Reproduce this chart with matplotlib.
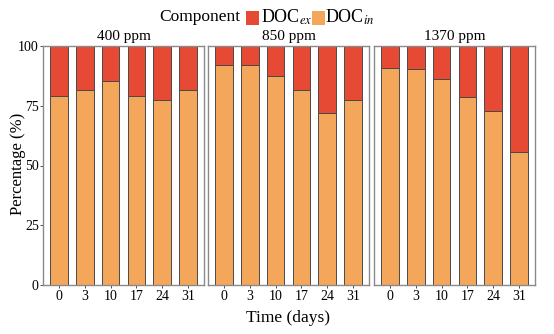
import matplotlib.pyplot as plt
from matplotlib.patches import Rectangle

plt.rcParams['font.family'] = ['Liberation Serif', 'DejaVu Serif']
plt.rcParams['mathtext.fontset'] = 'stix'

days = ['0', '3', '10', '17', '24', '31']
panels = ['400 ppm', '850 ppm', '1370 ppm']
doc_in = [
    [79.2, 81.7, 85.4, 79.0, 77.3, 81.5],
    [92.1, 91.9, 87.4, 81.5, 72.1, 77.3],
    [90.6, 90.4, 86.4, 78.5, 72.8, 55.5],
]
doc_ex = [[100 - v for v in row] for row in doc_in]

c_ex = '#E64A35'
c_in = '#F4A75B'

fig = plt.figure(figsize=(5.54, 3.34), dpi=100)
W, H = 554, 334
lefts = [43, 208, 374]
width = 161
top, bot = 46, 285

for k in range(3):
    ax = fig.add_axes([lefts[k] / W, 1 - bot / H, width / W, (bot - top) / H])
    x = range(len(days))
    ax.bar(x, doc_in[k], width=0.68, color=c_in, edgecolor='#4a4a4a', linewidth=0.7)
    ax.bar(x, doc_ex[k], width=0.68, bottom=doc_in[k], color=c_ex,
           edgecolor='#4a4a4a', linewidth=0.7)
    ax.set_xlim(-0.62, 5.62)
    ax.set_ylim(0, 100)
    ax.set_xticks(list(x))
    ax.set_xticklabels(days, fontsize=10)
    ax.tick_params(axis='x', length=2.5, width=0.6, color='#333333', pad=1)
    for s in ax.spines.values():
        s.set_color('#8a8a8a')
        s.set_linewidth(1.0)
    if k == 0:
        ax.set_yticks([0, 25, 50, 75, 100])
        ax.set_yticklabels(['0', '25', '50', '75', '100'], fontsize=10)
        ax.tick_params(axis='y', length=2.5, width=0.6, color='#333333', pad=0.5)
    else:
        ax.set_yticks([])
    ax.set_title(panels[k], fontsize=11, pad=4)

# axis titles
fig.text(18 / W, 1 - 164 / H, 'Percentage (%)', rotation=90, ha='center', va='center', fontsize=12)
fig.text(0.5 * (43 + 534) / W, 1 - 318 / H, 'Time (days)', ha='center', va='center', fontsize=12.5)

# legend at top
ly = 1 - 17 / H
fig.text(240 / W, ly, 'Component', ha='right', va='center', fontsize=12.5)
fig.add_artist(Rectangle((246 / W, 1 - 25 / H), 13 / W, 14 / H, transform=fig.transFigure,
                         facecolor=c_ex, edgecolor='none'))
fig.text(261 / W, ly, r'DOC$_{ex}$', ha='left', va='center', fontsize=13)
fig.add_artist(Rectangle((312 / W, 1 - 25 / H), 13 / W, 14 / H, transform=fig.transFigure,
                         facecolor=c_in, edgecolor='none'))
fig.text(325 / W, ly, r'DOC$_{in}$', ha='left', va='center', fontsize=13)

fig.savefig('out.png', dpi=100)
